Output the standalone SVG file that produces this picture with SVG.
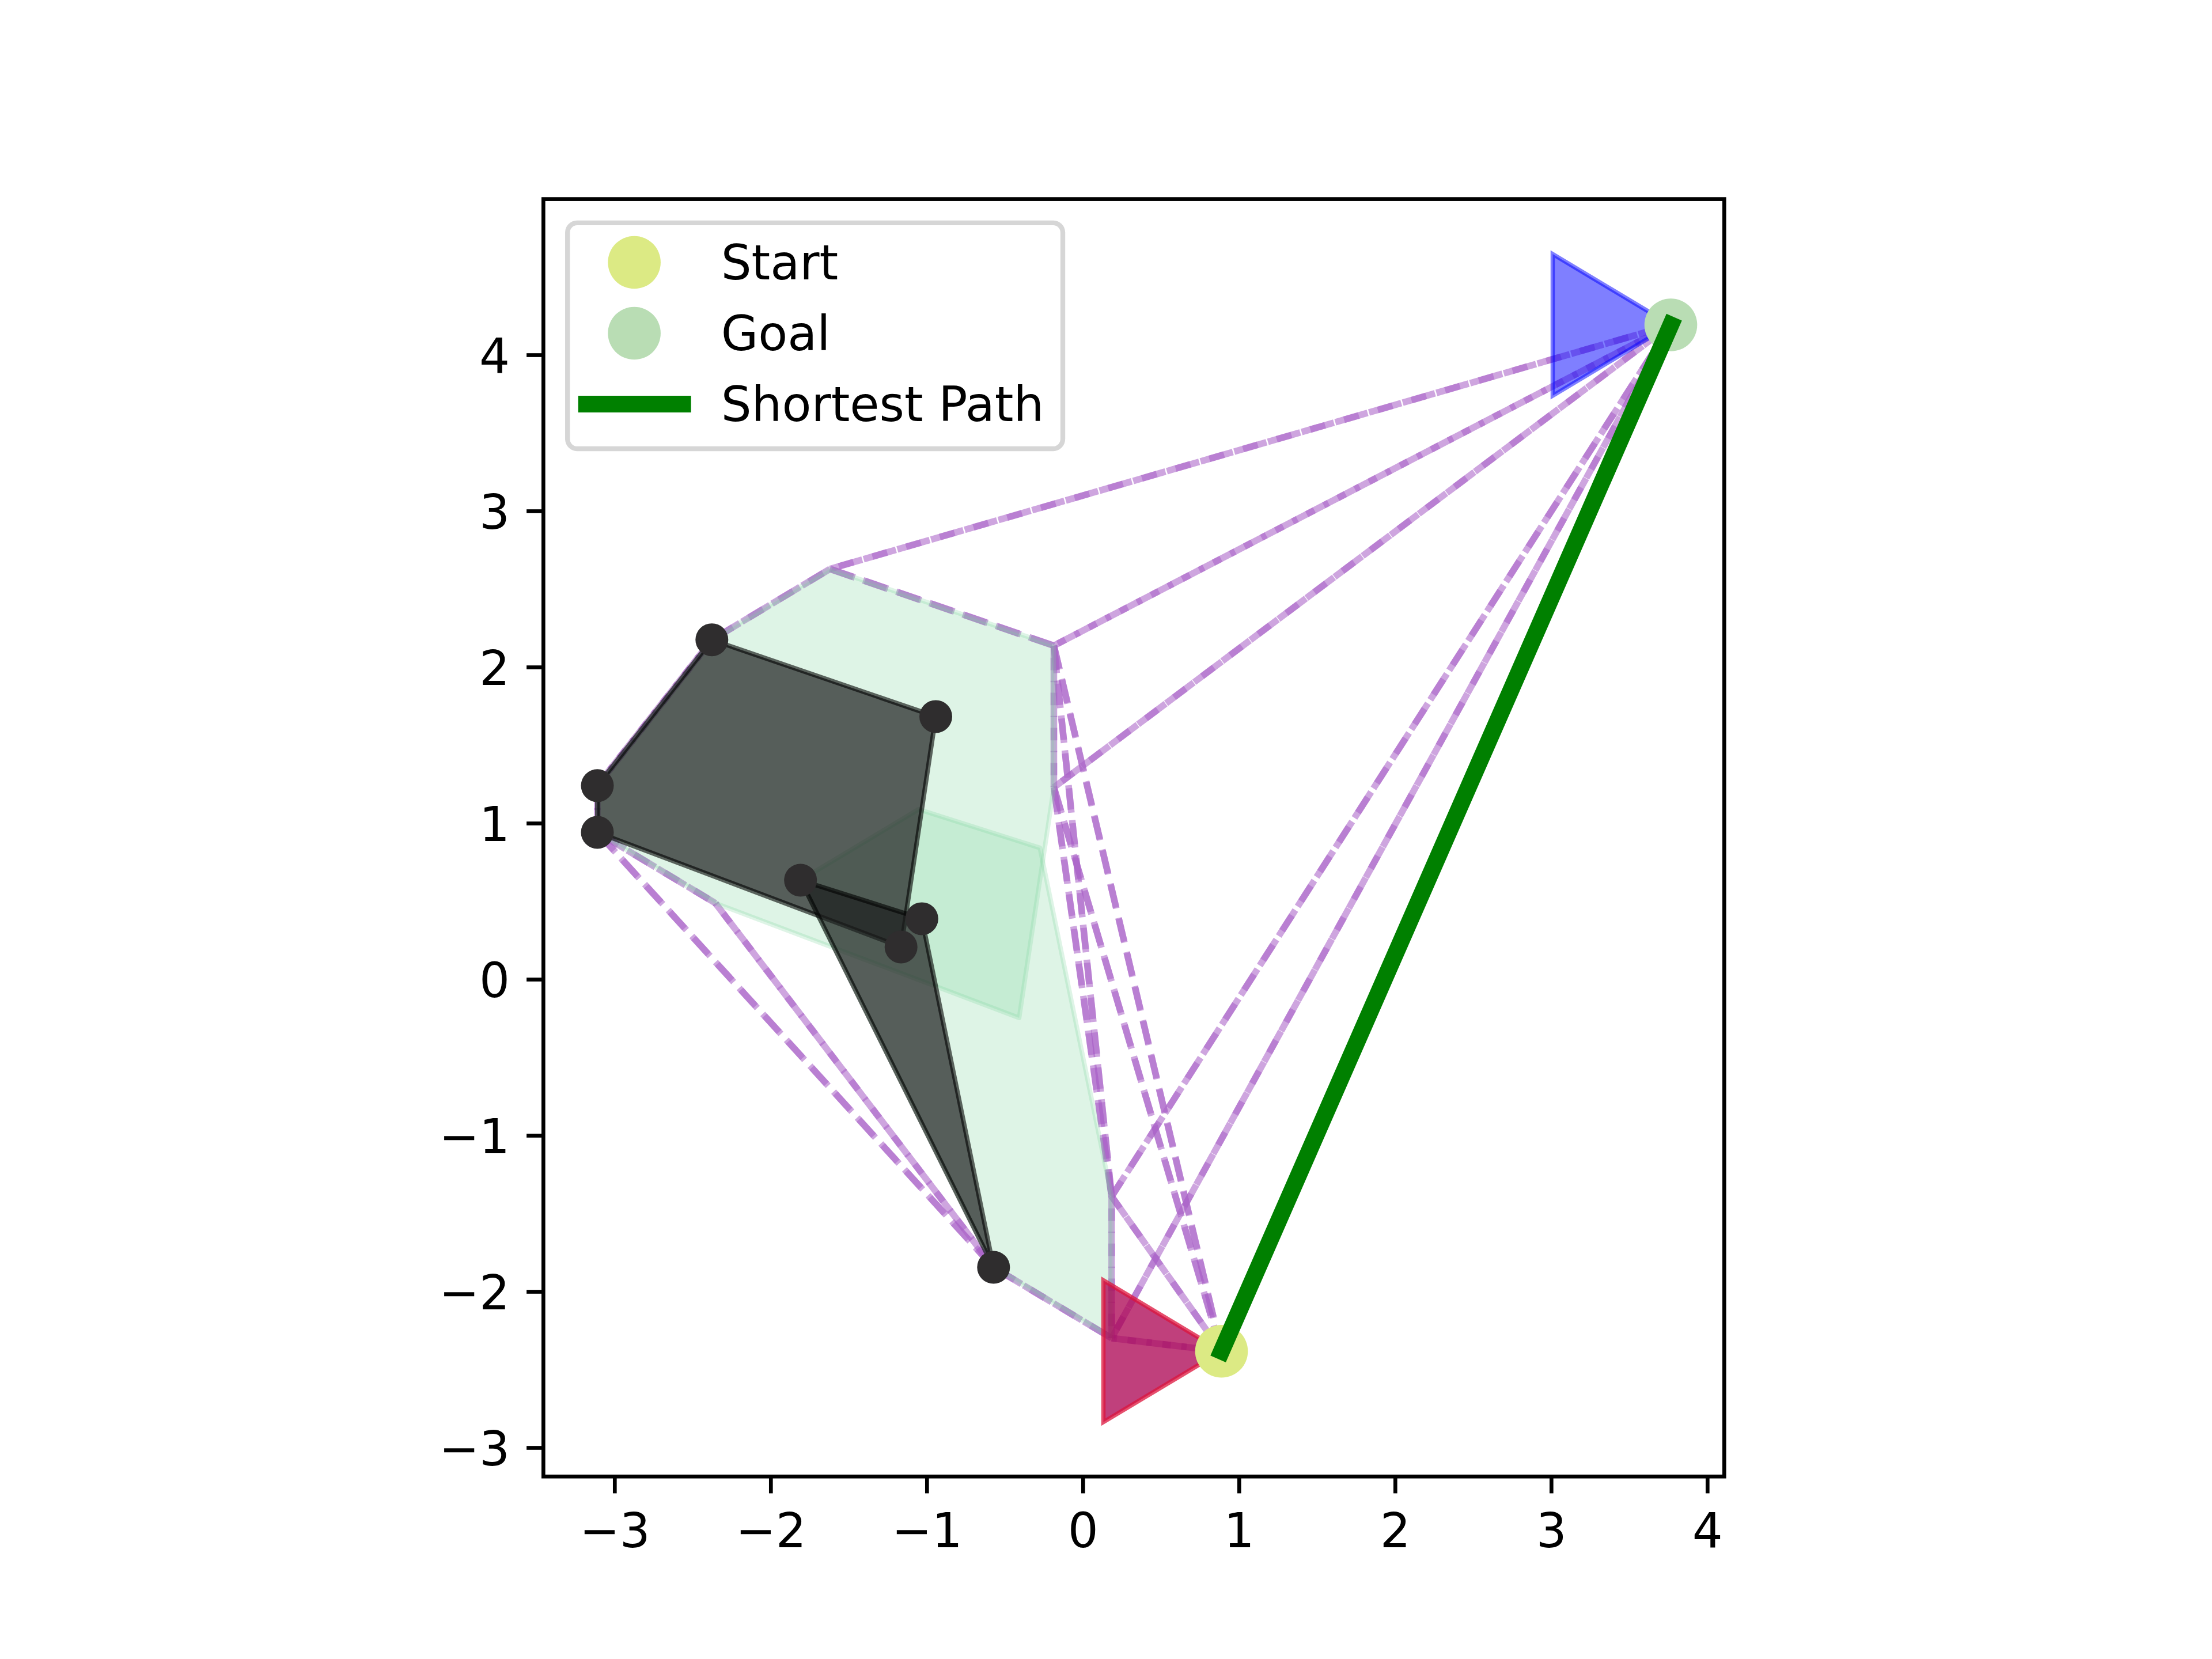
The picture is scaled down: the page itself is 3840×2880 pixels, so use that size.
<svg xmlns="http://www.w3.org/2000/svg" width="3840" height="2880" viewBox="0 0 3840 2880">
<style>
.e{stroke:rgb(170,100,200);stroke-opacity:0.58;stroke-width:11.5;stroke-dasharray:42.5 18.4;fill:none;stroke-linecap:butt}
.cs{fill:rgb(123,211,155);fill-opacity:0.25;stroke:rgb(123,211,155);stroke-opacity:0.25;stroke-width:8;stroke-linejoin:round}
.ob{fill:rgb(28,30,30);fill-opacity:0.7;stroke:#000;stroke-opacity:0.6;stroke-width:8;stroke-linejoin:round}
.dot{fill:#2f2d2e}
.tk{stroke:#000;stroke-width:6.67}
.tl{font-family:"DejaVu Sans",sans-serif;font-size:83.33px;fill:#000}
.lg{font-family:"DejaVu Sans",sans-serif;font-size:83.33px;fill:#000}
</style>
<rect x="0" y="0" width="3840" height="2880" fill="#fff"/>
<g id="connectors">
<line class="e" x1="2900.5" y1="564" x2="1440.8" y2="987.7"/><line class="e" x2="2900.5" y2="564" x1="1440.8" y1="987.7"/>
<line class="e" x1="2900.5" y1="564" x2="1829.5" y2="1120.9"/><line class="e" x2="2900.5" y2="564" x1="1829.5" y1="1120.9" style="stroke-dashoffset:20"/>
<line class="e" x1="2900.5" y1="564" x2="1829.5" y2="1366.9"/><line class="e" x2="2900.5" y2="564" x1="1829.5" y1="1366.9"/>
<line class="e" x1="2900.5" y1="564" x2="1929.8" y2="2077"/><line class="e" x2="2900.5" y2="564" x1="1929.8" y1="2077"/>
<line class="e" x1="2900.5" y1="564" x2="1929.8" y2="2323"/><line class="e" x2="2900.5" y2="564" x1="1929.8" y1="2323"/>
<line class="e" x1="2900.5" y1="564" x2="2120.5" y2="2345.7"/><line class="e" x2="2900.5" y2="564" x1="2120.5" y1="2345.7"/>
<line class="e" x1="1037" y1="1363.8" x2="1235.8" y2="1110.7"/><line class="e" x2="1037" y2="1363.8" x1="1235.8" y1="1110.7"/>
<line class="e" x1="1235.8" y1="1110.7" x2="1440.8" y2="987.7"/><line class="e" x2="1235.8" y2="1110.7" x1="1440.8" y1="987.7"/>
<line class="e" x1="1440.8" y1="987.7" x2="1829.5" y2="1120.9"/><line class="e" x2="1440.8" y2="987.7" x1="1829.5" y1="1120.9"/>
<line class="e" x1="1829.5" y1="1120.9" x2="1829.5" y2="1366.9"/><line class="e" x2="1829.5" y2="1120.9" x1="1829.5" y1="1366.9"/>
<line class="e" x1="1037" y1="1363.8" x2="1037" y2="1444.9"/><line class="e" x2="1037" y2="1363.8" x1="1037" y1="1444.9"/>
<line class="e" x1="1037" y1="1444.9" x2="1242" y2="1567.9"/><line class="e" x2="1037" y2="1444.9" x1="1242" y1="1567.9"/>
<line class="e" x1="1242" y1="1567.9" x2="1724.8" y2="2200"/><line class="e" x2="1242" y2="1567.9" x1="1724.8" y1="2200"/>
<line class="e" x1="1037" y1="1444.9" x2="1724.8" y2="2200"/><line class="e" x2="1037" y2="1444.9" x1="1724.8" y1="2200"/>
<line class="e" x1="1724.8" y1="2200" x2="1929.8" y2="2323"/><line class="e" x2="1724.8" y2="2200" x1="1929.8" y1="2323"/>
<line class="e" x1="1929.8" y1="2323" x2="1929.8" y2="2077"/><line class="e" x2="1929.8" y2="2323" x1="1929.8" y1="2077"/>
<line class="e" x1="1929.8" y1="2323" x2="2120.5" y2="2345.7"/><line class="e" x2="1929.8" y2="2323" x1="2120.5" y1="2345.7"/>
<line class="e" x1="1929.8" y1="2077" x2="2120.5" y2="2345.7"/><line class="e" x2="1929.8" y2="2077" x1="2120.5" y1="2345.7"/>
<line class="e" x1="1829.5" y1="1120.9" x2="2120.5" y2="2345.7"/><line class="e" x2="1829.5" y2="1120.9" x1="2120.5" y1="2345.7"/>
<line class="e" x1="1829.5" y1="1366.9" x2="2120.5" y2="2345.7"/><line class="e" x2="1829.5" y2="1366.9" x1="2120.5" y1="2345.7"/>
<line class="e" x1="1829.5" y1="1120.9" x2="1929.8" y2="2077"/><line class="e" x2="1829.5" y2="1120.9" x1="1929.8" y1="2077"/>
<line class="e" x1="1829.5" y1="1366.9" x2="1929.8" y2="2077"/><line class="e" x2="1829.5" y2="1366.9" x1="1929.8" y1="2077"/>
</g>
<g id="cspace-a"><polygon class="cs" points="1037,1363.8 1235.8,1110.7 1440.8,987.7 1829.5,1120.9 1829.5,1366.9 1769.2,1766.9 1242,1567.9 1037,1444.9"/></g>
<g id="cspace-b"><polygon class="cs" points="1389.7,1528 1594.7,1405 1805.3,1471.9 1929.8,2077 1929.8,2323 1724.8,2200"/></g>
<g id="obstacle-a"><polygon class="ob" points="1235.8,1110.7 1624.5,1243.9 1564.2,1643.9 1037,1444.9 1037,1363.8"/></g>
<g id="obstacle-b"><polygon class="ob" points="1389.7,1528 1600.3,1594.9 1724.8,2200"/></g>
<g id="vertices">
<circle class="dot" cx="1235.8" cy="1110.7" r="28.5"/>
<circle class="dot" cx="1624.5" cy="1243.9" r="28.5"/>
<circle class="dot" cx="1037" cy="1363.8" r="28.5"/>
<circle class="dot" cx="1037" cy="1444.9" r="28.5"/>
<circle class="dot" cx="1389.7" cy="1528" r="28.5"/>
<circle class="dot" cx="1600.3" cy="1594.9" r="28.5"/>
<circle class="dot" cx="1564.2" cy="1643.9" r="28.5"/>
<circle class="dot" cx="1724.8" cy="2200" r="28.5"/>
</g>
<g id="robot-goal"><polygon points="2900.5,564 2695.5,441 2695.5,687" fill="#0000ff" fill-opacity="0.5" stroke="#0000ff" stroke-opacity="0.5" stroke-width="7.5"/></g>
<g id="robot-start"><polygon points="2120.5,2345.7 1915.5,2222.7 1915.5,2468.7" fill="rgb(171,0,80)" fill-opacity="0.75" stroke="#dc143c" stroke-opacity="0.75" stroke-width="7.5"/></g>
<g id="goal"><circle cx="2900.5" cy="564" r="45.8" fill="#b9ddb4"/></g>
<g id="start"><circle cx="2120.5" cy="2345.7" r="45.8" fill="#dcea84"/></g>
<g id="path"><line x1="2120.5" y1="2345.7" x2="2900.5" y2="564" stroke="#008000" stroke-width="29.2" stroke-linecap="square"/></g>
<g id="axes">
<rect x="943.3" y="345.6" width="2050" height="2217.6" fill="none" stroke="#000" stroke-width="6.67" stroke-linejoin="miter"/>
<line class="tk" x1="1067.3" y1="2563.2" x2="1067.3" y2="2592.4"/>
<line class="tk" x1="1338.3" y1="2563.2" x2="1338.3" y2="2592.4"/>
<line class="tk" x1="1609.3" y1="2563.2" x2="1609.3" y2="2592.4"/>
<line class="tk" x1="1880.3" y1="2563.2" x2="1880.3" y2="2592.4"/>
<line class="tk" x1="2151.3" y1="2563.2" x2="2151.3" y2="2592.4"/>
<line class="tk" x1="2422.3" y1="2563.2" x2="2422.3" y2="2592.4"/>
<line class="tk" x1="2693.3" y1="2563.2" x2="2693.3" y2="2592.4"/>
<line class="tk" x1="2964.3" y1="2563.2" x2="2964.3" y2="2592.4"/>
<text class="tl" x="1067.3" y="2686" text-anchor="middle">−3</text>
<text class="tl" x="1338.3" y="2686" text-anchor="middle">−2</text>
<text class="tl" x="1609.3" y="2686" text-anchor="middle">−1</text>
<text class="tl" x="1880.3" y="2686" text-anchor="middle">0</text>
<text class="tl" x="2151.3" y="2686" text-anchor="middle">1</text>
<text class="tl" x="2422.3" y="2686" text-anchor="middle">2</text>
<text class="tl" x="2693.3" y="2686" text-anchor="middle">3</text>
<text class="tl" x="2964.3" y="2686" text-anchor="middle">4</text>
<line class="tk" x1="943.3" y1="616.5" x2="914.1" y2="616.5"/>
<line class="tk" x1="943.3" y1="887.5" x2="914.1" y2="887.5"/>
<line class="tk" x1="943.3" y1="1158.5" x2="914.1" y2="1158.5"/>
<line class="tk" x1="943.3" y1="1429.5" x2="914.1" y2="1429.5"/>
<line class="tk" x1="943.3" y1="1700.5" x2="914.1" y2="1700.5"/>
<line class="tk" x1="943.3" y1="1971.5" x2="914.1" y2="1971.5"/>
<line class="tk" x1="943.3" y1="2242.5" x2="914.1" y2="2242.5"/>
<line class="tk" x1="943.3" y1="2513.5" x2="914.1" y2="2513.5"/>
<text class="tl" x="885" y="646.9" text-anchor="end">4</text>
<text class="tl" x="885" y="917.9" text-anchor="end">3</text>
<text class="tl" x="885" y="1188.9" text-anchor="end">2</text>
<text class="tl" x="885" y="1459.9" text-anchor="end">1</text>
<text class="tl" x="885" y="1730.9" text-anchor="end">0</text>
<text class="tl" x="885" y="2001.9" text-anchor="end">−1</text>
<text class="tl" x="885" y="2272.9" text-anchor="end">−2</text>
<text class="tl" x="885" y="2543.9" text-anchor="end">−3</text>
</g>
<g id="legend">
<rect x="985.2" y="386.8" width="859.8" height="392.2" rx="16.7" ry="16.7" fill="#fff" fill-opacity="0.8" stroke="#cccccc" stroke-opacity="0.8" stroke-width="8.33"/>
<circle cx="1101.1" cy="455.5" r="45.8" fill="#dcea84"/>
<text class="lg" x="1251.7" y="485">Start</text>
<circle cx="1101.1" cy="578.5" r="45.8" fill="#b9ddb4"/>
<text class="lg" x="1251.7" y="608">Goal</text>
<line x1="1018.3" y1="701.5" x2="1185" y2="701.5" stroke="#008000" stroke-width="29.2" stroke-linecap="square"/>
<text class="lg" x="1251.7" y="731">Shortest Path</text>
</g>
</svg>
